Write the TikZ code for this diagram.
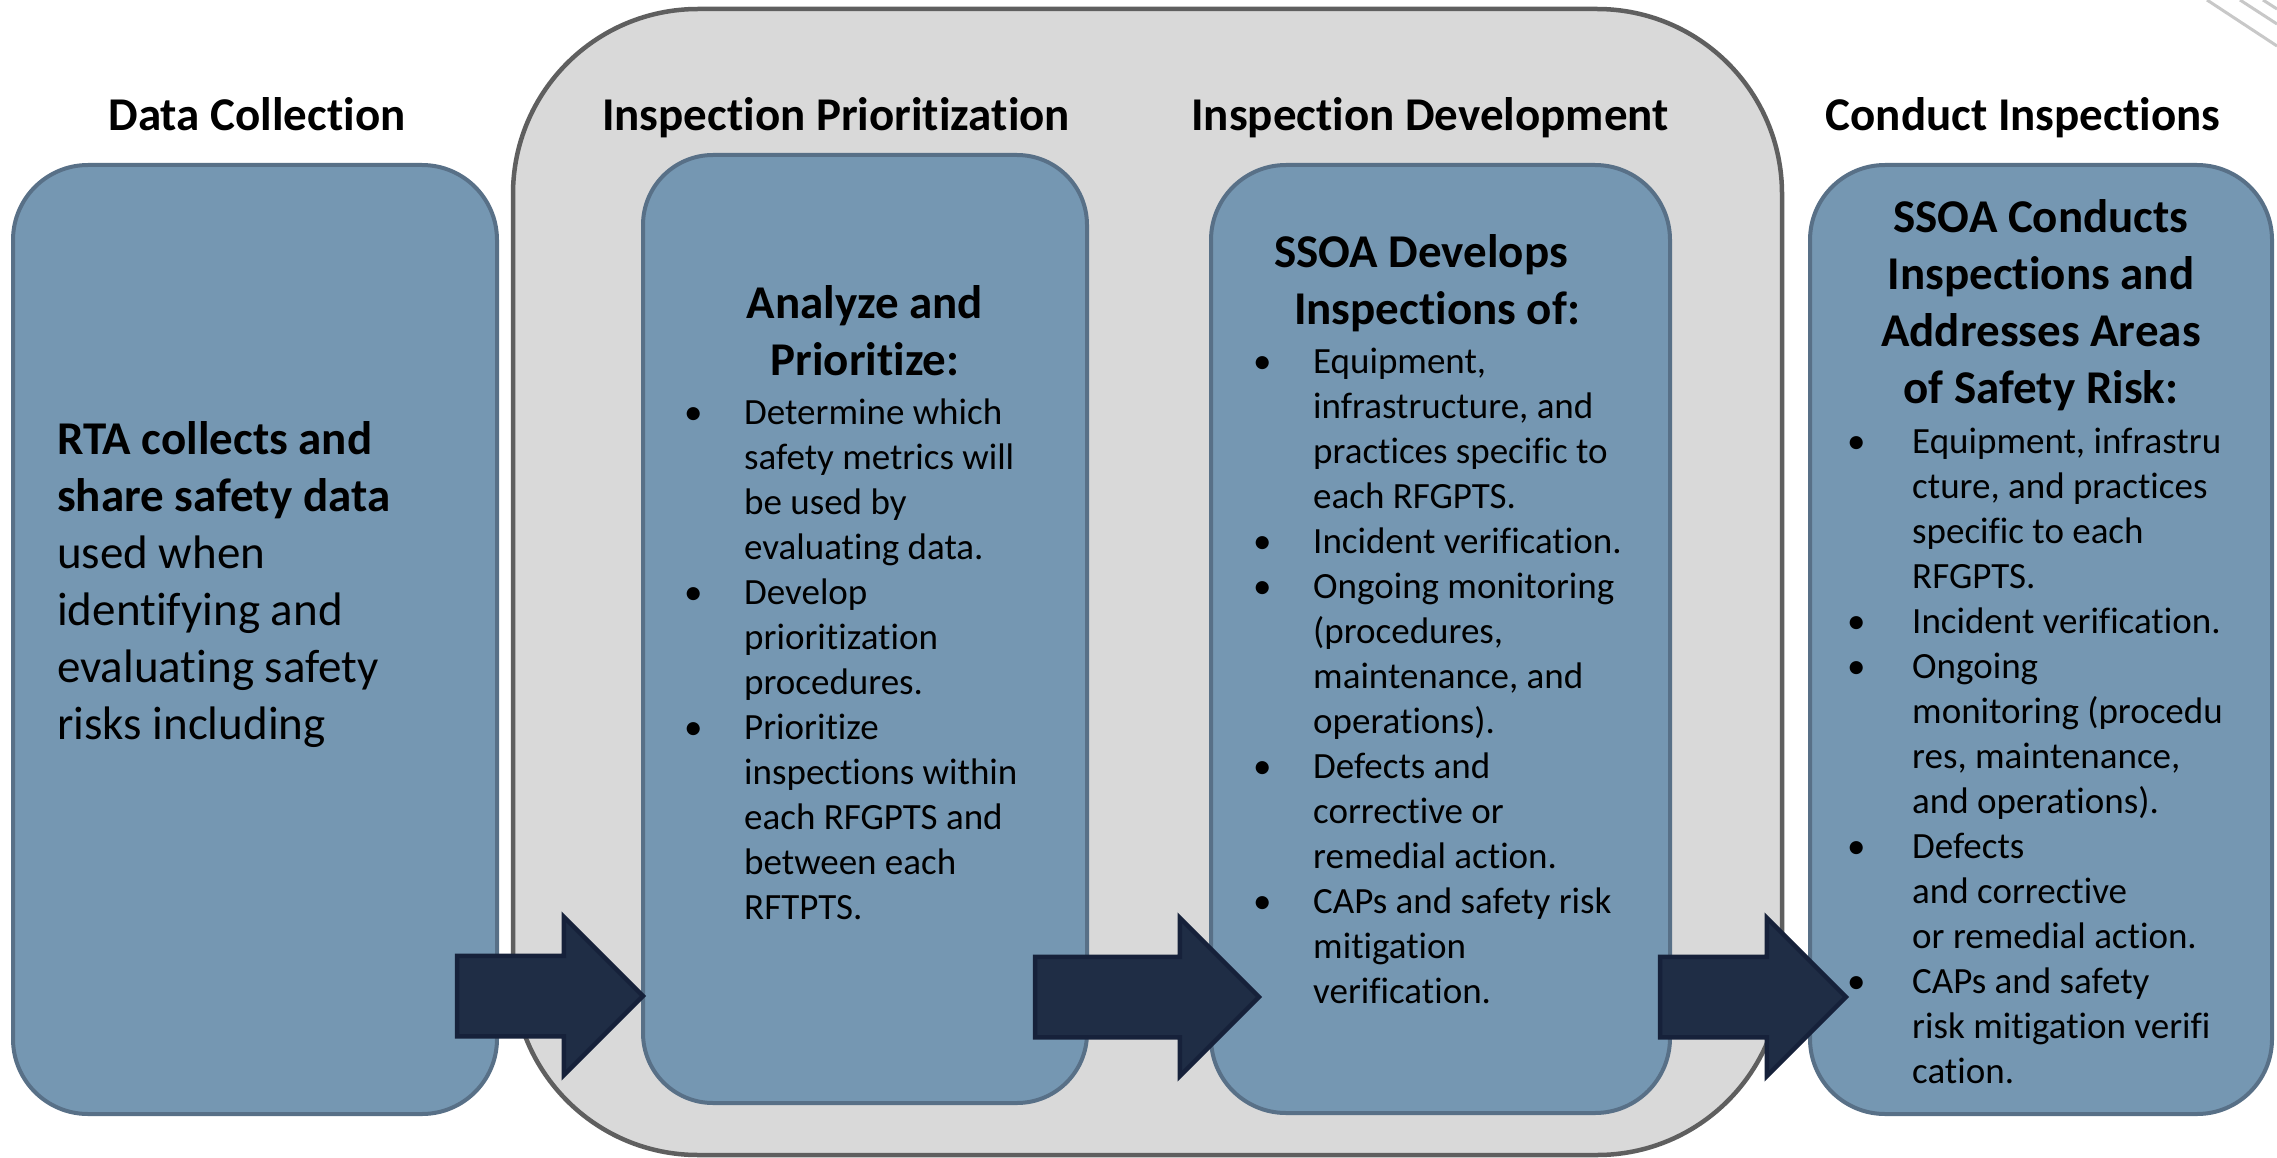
\documentclass[tikz,border=0pt]{standalone}
\usepackage{fontspec}
\setmainfont{Carlito}[Ligatures=NoCommon]
\usetikzlibrary{shapes.arrows}
\definecolor{boxfill}{HTML}{7597B2}
\definecolor{boxline}{HTML}{587087}
\definecolor{grayfill}{HTML}{D9D9D9}
\definecolor{grayline}{HTML}{5F5F5F}
\definecolor{arrowfill}{HTML}{1F2D45}
\definecolor{arrowline}{HTML}{16213A}
\definecolor{decoline}{HTML}{C8C8C8}
\newcommand\bulletcell[1]{\makebox[#1][l]{•}}
\tikzset{
 stagebox/.style={draw=boxline, fill=boxfill, line width=4pt, rounded corners=75pt, inner sep=0pt, outer sep=0pt},
 groupbox/.style={draw=grayline, fill=grayfill, line width=4.5pt, rounded corners=185pt, inner sep=0pt, outer sep=0pt},
 flowarrow/.style={single arrow, draw=arrowline, fill=arrowfill, line width=4.5pt, inner xsep=0pt, inner ysep=38pt, single arrow head extend=39pt, single arrow head indent=0pt, outer sep=0pt, anchor=tip},
 titletext/.style={font=\bfseries\fontsize{47}{57}\selectfont, anchor=base, inner sep=0pt},
 bodytext/.style={font=\fontsize{37}{45}\selectfont, anchor=base west, inner sep=0pt},
 headtext/.style={font=\bfseries\fontsize{47}{57}\selectfont, anchor=base, inner sep=0pt},
 deco/.style={draw=decoline, line width=3pt},
}
\begin{document}
\begin{tikzpicture}[x=1pt,y=-1pt]
\useasboundingbox (0,0) rectangle (2277,1158);
\fill[white] (0,0) rectangle (2277,1158);
% decorative lines
\draw[deco] (2207,0) -- (2277,46);
\draw[deco] (2240,0) -- (2277,24);
\draw[deco] (2263,0) -- (2277,9);
% group container
\node[groupbox, minimum width=1269pt, minimum height=1146pt] (grp) at (1147.5,582) {};
% stage boxes
\node[stagebox, minimum width=484pt, minimum height=949pt] (b1) at (255,639.5) {};
\node[stagebox, rounded corners=70pt, minimum width=444pt, minimum height=948pt] (b2) at (865,629) {};
\node[stagebox, minimum width=459pt, minimum height=948pt] (b3) at (1440.5,639) {};
\node[stagebox, minimum width=462pt, minimum height=949pt] (b4) at (2041,639.5) {};
% titles
\node[titletext] (t1) at (257,131) {Data Collection};
\node[titletext] (t2) at (836,131) {Inspection Prioritization};
\node[titletext] (t3) at (1430,131) {Inspection Development};
\node[titletext] (t4) at (2023,131) {Conduct Inspections};
% box 1 text
\node[font=\fontsize{47}{57}\selectfont, anchor=base west, inner sep=0pt] (x1) at (57,454) {\begin{tabular}[t]{@{}l@{}}
\textbf{RTA collects and}\\
\textbf{share safety data}\\
used when\\
identifying and\\
evaluating safety\\
risks including
\end{tabular}};
% box 2 text
\node[headtext] (h2) at (865,318) {\begin{tabular}[t]{@{}c@{}}Analyze and\\Prioritize:\end{tabular}};
\node[bodytext] (x2) at (684,424) {\begin{tabular}[t]{@{}l@{}l@{}}
\bulletcell{60pt} & Determine which\\
 & safety metrics will\\
 & be used by\\
 & evaluating data.\\
\bulletcell{60pt} & Develop\\
 & prioritization\\
 & procedures.\\
\bulletcell{60pt} & Prioritize\\
 & inspections within\\
 & each RFGPTS and\\
 & between each\\
 & RFTPTS.
\end{tabular}};
% box 3 text
\node[headtext] (h3) at (1440,268) {\begin{tabular}[t]{@{}c@{}}SSOA Develops\kern38pt\\Inspections of:\kern6pt\end{tabular}};
\node[bodytext] (x3) at (1253,373) {\begin{tabular}[t]{@{}l@{}l@{}}
\bulletcell{60pt} & Equipment,\\
 & infrastructure, and\\
 & practices specific to\\
 & each RFGPTS.\\
\bulletcell{60pt} & Incident verification.\\
\bulletcell{60pt} & Ongoing monitoring\\
 & (procedures,\\
 & maintenance, and\\
 & operations).\\
\bulletcell{60pt} & Defects and\\
 & corrective or\\
 & remedial action.\\
\bulletcell{60pt} & CAPs and safety risk\\
 & mitigation\\
 & verification.
\end{tabular}};
% box 4 text
\node[headtext] (h4) at (2041,233) {\begin{tabular}[t]{@{}c@{}}SSOA Conducts\\Inspections and\\Addresses Areas\\of Safety Risk:\end{tabular}};
\node[bodytext] (x4) at (1847,453) {\begin{tabular}[t]{@{}l@{}l@{}}
\bulletcell{65pt} & Equipment, infrastru\\
 & cture, and practices\\
 & specific to each\\
 & RFGPTS.\\
\bulletcell{65pt} & Incident verification.\\
\bulletcell{65pt} & Ongoing\\
 & monitoring (procedu\\
 & res, maintenance,\\
 & and operations).\\
\bulletcell{65pt} & Defects\\
 & and corrective\\
 & or remedial action.\\
\bulletcell{65pt} & CAPs and safety\\
 & risk mitigation verifi\\
 & cation.
\end{tabular}};
% arrows
\node[flowarrow, minimum height=186pt] (a1) at (b2.west |- 0,996) {};
\node[flowarrow, minimum height=224pt] (a2) at ([xshift=48pt]b3.west |- 0,997) {};
\node[flowarrow, minimum height=186pt] (a3) at ([xshift=36pt]b4.west |- 0,997) {};
\end{tikzpicture}
\end{document}
